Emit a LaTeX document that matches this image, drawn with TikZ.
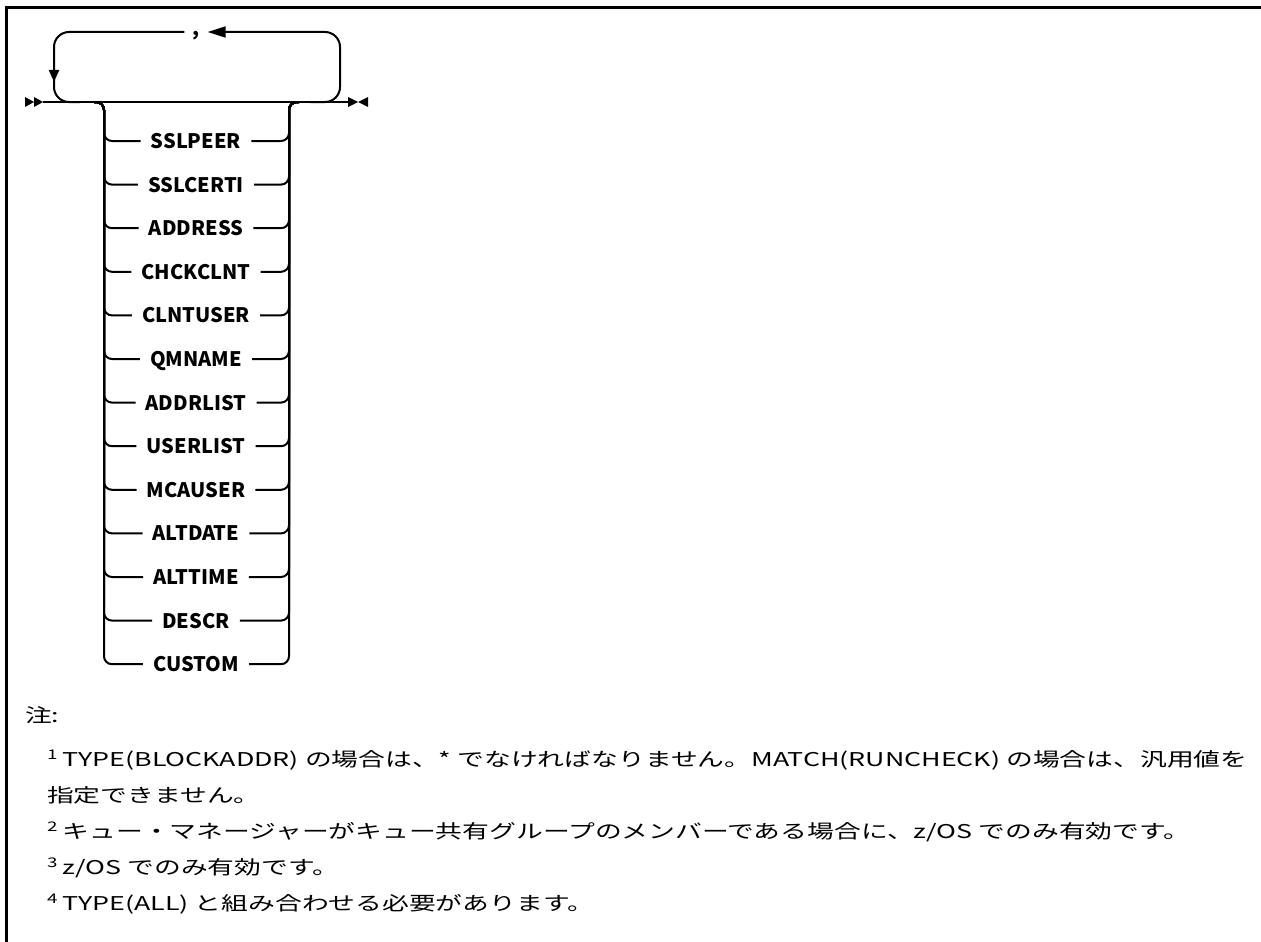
\documentclass[tikz,border=0pt]{standalone}
\usepackage{fontspec}
\setmainfont{Noto Sans CJK JP}
\usepackage{tikz}
\usetikzlibrary{arrows.meta}

\tikzset{
  rail/.style={line width=2, rounded corners=8},
  keyword/.style={font=\fontsize{20}{24}\selectfont\bfseries, inner xsep=10, inner ysep=0,
    text height=15, text depth=0},
  note/.style={font=\fontsize{19}{24}\selectfont, anchor=base west, inner sep=0}
}
\newcommand{\fn}[1]{\textsuperscript{#1}\,}
\newcommand{\wide}[1]{\scalebox{1.41}[1]{#1}}

\begin{document}
\begin{tikzpicture}[x=1pt, y=-1pt]
			\useasboundingbox (0,0) rectangle (1261,942);
			
			% Frame
			\draw[line width=3] (6,942) -- (6,8) -- (1261,8);
			
			% Main line
			\coordinate (start) at (43,102);
			\coordinate (stop) at (348,102);
			\coordinate (lrail) at (104,102);
			\coordinate (lsplit) at (94,102);
			\coordinate (rrail) at (289,102);
			\coordinate (rsplit) at (299,102);
			\draw[rail] (start) -- (stop);
			
			% Start and end marks
			\fill (25,97) -- (34,102) -- (25,107) -- cycle;
			\fill (34,97) -- (43,102) -- (34,107) -- cycle;
			\fill (348,97) -- (358,102) -- (348,107) -- cycle;
			\fill (368,97) -- (358,102) -- (368,107) -- cycle;
			
			% Repeat loop
			\node[font=\fontsize{20}{24}\selectfont\bfseries, inner xsep=8] (sep) at (196,36) {,};
			\draw[rail, rounded corners=15, -{Triangle[length=18,width=11]}]
				(310,102) -| (340,32) -- (sep.east |- 0,32);
			\draw[rail, rounded corners=15] (sep.west |- 0,32) -| (54,102) -- (80,102);
			\draw[rail, -{Triangle[length=12,width=10]}] (54,60) -- (54,82);
			
			% Options
			\foreach \name [count=\i from 0] in {SSLPEER,SSLCERTI,ADDRESS,CHCKCLNT,CLNTUSER,QMNAME,
				ADDRLIST,USERLIST,MCAUSER,ALTDATE,ALTTIME,DESCR,CUSTOM}
			{
				\node[keyword] (opt\i) at (196,141+43.6*\i) {\name};
				\draw[rail] (opt\i.west) -| (lrail) -- (lsplit);
				\draw[rail] (opt\i.east) -| (rrail) -- (rsplit);
			}
			
			% Notes
			\node[note] (notes) at (25,722) {\wide{注:}};
			\node[note] (n1) at (47,766) {\wide{\fn{1}TYPE(BLOCKADDR) の場合は、* でなければなりません。MATCH(RUNCHECK) の場合は、汎用値を}};
			\node[note] (n1b) at (47,802) {\wide{指定できません。}};
			\node[note] (n2) at (47,838) {\wide{\fn{2}キュー・マネージャーがキュー共有グループのメンバーである場合に、z/OS でのみ有効です。}};
			\node[note] (n3) at (47,874) {\wide{\fn{3}z/OS でのみ有効です。}};
			\node[note] (n4) at (47,910) {\wide{\fn{4}TYPE(ALL) と組み合わせる必要があります。}};
\end{tikzpicture}
\end{document}
